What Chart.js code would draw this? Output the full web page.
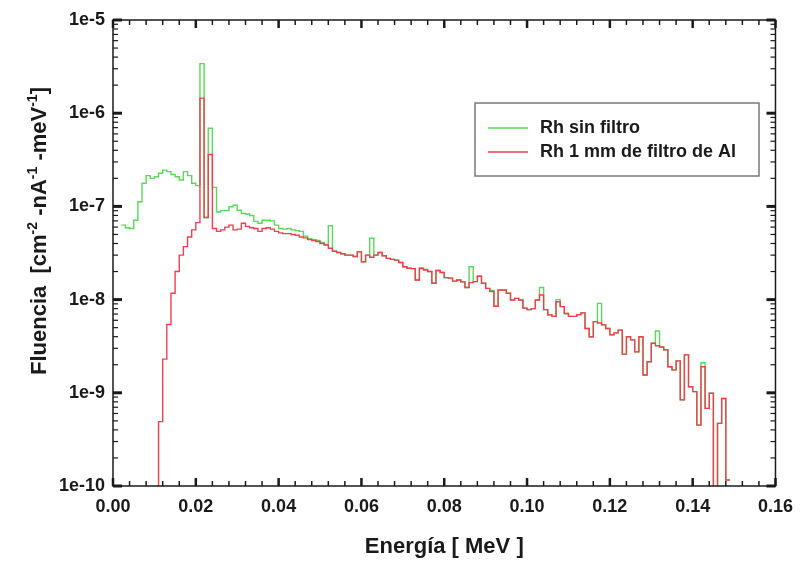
<!DOCTYPE html>
<html>
<head>
<meta charset="utf-8">
<script src="https://cdn.jsdelivr.net/npm/chart.js@4/dist/chart.umd.min.js"></script>
<style>
html,body{margin:0;padding:0;background:#ffffff;}
#wrap{width:803px;height:563px;}
</style>
</head>
<body>
<div id="wrap"><canvas id="c" width="803" height="563"></canvas></div>
<script>
// ---- data (bin lower edges in keV, 1 keV wide bins) ----
const energyKeV = [
  2,3,4,5,6,7,8,9,10,11,
  12,13,14,15,16,17,18,19,20,21,
  22,23,24,25,26,27,28,29,30,31,
  32,33,34,35,36,37,38,39,40,41,
  42,43,44,45,46,47,48,49,50,51,
  52,53,54,55,56,57,58,59,60,61,
  62,63,64,65,66,67,68,69,70,71,
  72,73,74,75,76,77,78,79,80,81,
  82,83,84,85,86,87,88,89,90,91,
  92,93,94,95,96,97,98,99,100,101,
  102,103,104,105,106,107,108,109,110,111,
  112,113,114,115,116,117,118,119,120,121,
  122,123,124,125,126,127,128,129,130,131,
  132,133,134,135,136,137,138,139,140,141,
  142,143,144,145,146,147,148
];

// Rh sin filtro
const fluenceSinFiltro = [
  6.3e-8,5.9e-8,5.8e-8,7.1e-8,1.12e-7,1.77e-7,2.14e-7,2.0e-7,2.08e-7,2.27e-7,
  2.45e-7,2.36e-7,2.2e-7,2.08e-7,1.92e-7,2.36e-7,2.14e-7,1.77e-7,1.67e-7,3.4e-6,
  7.6e-8,6.9e-7,1.6e-7,8.7e-8,9.0e-8,9.0e-8,9.9e-8,1.03e-7,9.1e-8,8.4e-8,
  8.3e-8,8.0e-8,6.9e-8,6.6e-8,7.1e-8,7.1e-8,7.0e-8,6.3e-8,5.8e-8,5.7e-8,
  5.8e-8,5.6e-8,5.5e-8,5.4e-8,4.8e-8,4.5e-8,4.4e-8,4.3e-8,4.1e-8,3.9e-8,
  6.2e-8,3.3e-8,3.2e-8,3.1e-8,3.0e-8,3.0e-8,2.9e-8,3.25e-8,2.55e-8,3.0e-8,
  4.55e-8,3.0e-8,3.2e-8,2.95e-8,2.77e-8,2.7e-8,2.65e-8,2.5e-8,2.25e-8,2.17e-8,
  2.15e-8,1.62e-8,2.2e-8,2.1e-8,2.0e-8,1.5e-8,2.05e-8,1.95e-8,1.72e-8,1.7e-8,
  1.58e-8,1.62e-8,1.55e-8,1.35e-8,2.25e-8,1.56e-8,1.78e-8,1.5e-8,1.32e-8,1.25e-8,
  8.5e-9,1.27e-8,1.27e-8,1.17e-8,9.9e-9,1.03e-8,9.9e-9,8.1e-9,7.8e-9,8.0e-9,
  9.9e-9,1.35e-8,7.8e-9,6.85e-9,6.6e-9,1.0e-8,8.4e-9,7.1e-9,6.6e-9,6.6e-9,
  6.9e-9,7.2e-9,4.9e-9,4.0e-9,5.8e-9,9.1e-9,5.35e-9,4.9e-9,4.2e-9,4.4e-9,
  4.7e-9,2.6e-9,4.0e-9,3.7e-9,2.75e-9,4.0e-9,1.55e-9,2.15e-9,3.4e-9,4.6e-9,
  3.1e-9,2.9e-9,1.9e-9,1.76e-9,2.2e-9,8.4e-10,2.55e-9,1.16e-9,1.03e-9,4.5e-10,
  2.1e-9,6.8e-10,9.9e-10,0,4.7e-10,8.7e-10,1.16e-10
];

// Rh 1 mm de filtro de Al (0 = below scale)
const fluenceFiltroAl = [
  0,0,0,0,0,0,0,0,0,4.9e-10,
  2.3e-9,5.4e-9,1.17e-8,2.0e-8,3.0e-8,3.7e-8,4.7e-8,5.6e-8,6.7e-8,1.45e-6,
  7.6e-8,3.6e-7,5.8e-8,5.4e-8,5.6e-8,6.0e-8,6.3e-8,5.6e-8,5.7e-8,6.6e-8,
  6.1e-8,5.9e-8,5.8e-8,5.4e-8,5.8e-8,5.9e-8,5.7e-8,5.4e-8,5.2e-8,5.1e-8,
  5.1e-8,5.0e-8,4.9e-8,4.7e-8,4.6e-8,4.4e-8,4.3e-8,4.2e-8,4.0e-8,3.85e-8,
  3.55e-8,3.3e-8,3.2e-8,3.1e-8,3.0e-8,3.0e-8,2.9e-8,3.25e-8,2.55e-8,3.0e-8,
  2.85e-8,3.0e-8,3.2e-8,2.95e-8,2.77e-8,2.7e-8,2.65e-8,2.5e-8,2.25e-8,2.17e-8,
  2.15e-8,1.62e-8,2.15e-8,2.08e-8,2.0e-8,1.5e-8,2.05e-8,1.95e-8,1.72e-8,1.7e-8,
  1.58e-8,1.62e-8,1.55e-8,1.35e-8,1.52e-8,1.56e-8,1.78e-8,1.5e-8,1.32e-8,1.22e-8,
  8.5e-9,1.27e-8,1.27e-8,1.17e-8,9.9e-9,1.03e-8,9.9e-9,8.1e-9,7.8e-9,8.0e-9,
  9.9e-9,1.12e-8,7.8e-9,6.85e-9,6.6e-9,9.5e-9,8.4e-9,7.1e-9,6.6e-9,6.6e-9,
  6.9e-9,7.2e-9,4.9e-9,4.0e-9,5.8e-9,5.6e-9,5.35e-9,4.9e-9,4.2e-9,4.4e-9,
  4.7e-9,2.6e-9,4.0e-9,3.7e-9,2.75e-9,4.0e-9,1.55e-9,2.15e-9,3.4e-9,3.2e-9,
  3.1e-9,2.9e-9,1.9e-9,1.76e-9,2.2e-9,8.4e-10,2.55e-9,1.16e-9,1.03e-9,4.5e-10,
  1.9e-9,6.8e-10,9.9e-10,0,4.7e-10,8.7e-10,1.16e-10
];

const seriesLabels = ['Rh sin filtro', 'Rh 1 mm de filtro de Al'];
const xTickValues = [0, 0.02, 0.04, 0.06, 0.08, 0.10, 0.12, 0.14, 0.16];
const xTickLabels = ['0.00','0.02','0.04','0.06','0.08','0.10','0.12','0.14','0.16'];
const yTickValues = [1e-10, 1e-9, 1e-8, 1e-7, 1e-6, 1e-5];
const yTickLabels = ['1e-10','1e-9','1e-8','1e-7','1e-6','1e-5'];
const xTitle = 'Energía [ MeV ]';
// y title with superscripts: text pieces and whether each is a superscript
const yTitleParts = ['Fluencia  [cm', '-2', ' -nA', '-1', ' -meV', '-1', ']'];
const yTitleSuper = [false, true, false, true, false, true, false];

// ---- build step-histogram points (value applies to [edge, next edge]) ----
const BELOW_SCALE = 1e-12;
function histPoints(vals) {
  const pts = energyKeV.map((e, i) => ({ x: e / 1000, y: vals[i] > 0 ? vals[i] : BELOW_SCALE }));
  const n = energyKeV.length - 1;
  const w = energyKeV[n] - energyKeV[n - 1];
  pts.push({ x: (energyKeV[n] + w) / 1000, y: pts[n].y });
  return pts;
}

const FONT = '"Liberation Sans", Arial, Helvetica, sans-serif';
const GREEN = 'rgb(92,214,92)';
const RED = 'rgb(238,64,80)';

const frameTicks = {
  id: 'frameTicks',
  afterDatasetsDraw(chart) {
    const { ctx, chartArea: a, scales: { x, y } } = chart;
    ctx.save();
    ctx.strokeStyle = '#1a1a1a';
    function seg(x1, y1, x2, y2, w) {
      ctx.lineWidth = w; ctx.beginPath(); ctx.moveTo(x1, y1); ctx.lineTo(x2, y2); ctx.stroke();
    }
    for (let i = 0; i < xTickValues.length; i++) {
      const px = x.getPixelForValue(xTickValues[i]);
      seg(px, a.bottom, px, a.bottom - 8, 2.5);
      seg(px, a.top, px, a.top + 8, 2.5);
      if (i < xTickValues.length - 1) {
        for (let k = 1; k < 5; k++) {
          const v = xTickValues[i] + (xTickValues[i + 1] - xTickValues[i]) * k / 5;
          const p = x.getPixelForValue(v);
          seg(p, a.bottom, p, a.bottom - 5, 1.5);
          seg(p, a.top, p, a.top + 5, 1.5);
        }
      }
    }
    for (let i = 0; i < yTickValues.length; i++) {
      const py = y.getPixelForValue(yTickValues[i]);
      seg(a.left, py, a.left + 9, py, 3);
      seg(a.right, py, a.right - 9, py, 3);
      if (i < yTickValues.length - 1) {
        for (let m = 2; m < 10; m++) {
          const p = y.getPixelForValue(yTickValues[i] * m);
          seg(a.left, p, a.left + 5, p, 1.2);
          seg(a.right, p, a.right - 5, p, 1.2);
        }
      }
    }
    ctx.lineWidth = 1.5;
    ctx.strokeRect(a.left, a.top, a.right - a.left, a.bottom - a.top);
    ctx.restore();
  }
};

const yAxisTitle = {
  id: 'yAxisTitle',
  afterDraw(chart) {
    const { ctx, chartArea: a } = chart;
    const mainFont = 'bold 22px ' + FONT;
    const supFont = 'bold 14px ' + FONT;
    ctx.save();
    ctx.fillStyle = '#1a1a1a';
    ctx.textBaseline = 'alphabetic';
    ctx.textAlign = 'left';
    let total = 0;
    const widths = yTitleParts.map((t, i) => {
      ctx.font = yTitleSuper[i] ? supFont : mainFont;
      const w = ctx.measureText(t).width;
      total += w;
      return w;
    });
    const cy = (a.top + a.bottom) / 2 - 22;
    ctx.translate(38, cy);
    ctx.rotate(-Math.PI / 2);
    let cx = -total / 2;
    yTitleParts.forEach((t, i) => {
      ctx.font = yTitleSuper[i] ? supFont : mainFont;
      ctx.fillText(t, cx, yTitleSuper[i] ? -1 : 8);
      cx += widths[i];
    });
    ctx.restore();
  }
};

const boxLegend = {
  id: 'boxLegend',
  afterDraw(chart) {
    const { ctx, chartArea: a } = chart;
    const bx = a.left + 362, by = a.top + 83, bw = 284, bh = 73;
    ctx.save();
    ctx.fillStyle = '#ffffff';
    ctx.fillRect(bx, by, bw, bh);
    ctx.strokeStyle = '#7a7a7a';
    ctx.lineWidth = 1.5;
    ctx.strokeRect(bx, by, bw, bh);
    chart.data.datasets.forEach((ds, i) => {
      const ly = by + 25 + i * 24;
      ctx.strokeStyle = ds.borderColor;
      ctx.lineWidth = 1.5;
      ctx.beginPath(); ctx.moveTo(bx + 13, ly); ctx.lineTo(bx + 53, ly); ctx.stroke();
      ctx.fillStyle = '#1a1a1a';
      ctx.font = 'bold 18px ' + FONT;
      ctx.textBaseline = 'middle';
      ctx.textAlign = 'left';
      ctx.fillText(ds.label, bx + 65, ly);
    });
    ctx.restore();
  }
};

new Chart(document.getElementById('c'), {
  type: 'line',
  data: {
    datasets: [
      { label: seriesLabels[0], data: histPoints(fluenceSinFiltro), borderColor: GREEN, backgroundColor: GREEN,
        borderWidth: 1.4, stepped: 'before', pointRadius: 0, fill: false, order: 2 },
      { label: seriesLabels[1], data: histPoints(fluenceFiltroAl), borderColor: RED, backgroundColor: RED,
        borderWidth: 1.4, stepped: 'before', pointRadius: 0, fill: false, order: 1 }
    ]
  },
  options: {
    responsive: false,
    animation: false,
    devicePixelRatio: 1,
    parsing: false,
    normalized: true,
    layout: { padding: { left: 0, top: 20, right: 22, bottom: 0 } },
    plugins: { legend: { display: false }, tooltip: { enabled: false } },
    scales: {
      x: {
        type: 'linear', min: 0, max: 0.16,
        afterBuildTicks: s => { s.ticks = xTickValues.map(v => ({ value: v })); },
        afterFit: s => { s.height = 77; },
        ticks: { callback: (v, i) => xTickLabels[i], autoSkip: false, maxRotation: 0, padding: 10,
                 color: '#1a1a1a', font: { family: FONT, size: 18, weight: 'bold' } },
        grid: { display: false, drawTicks: false },
        border: { display: false },
        title: { display: true, text: xTitle, color: '#1a1a1a', padding: { top: 0, bottom: 3 },
                 font: { family: FONT, size: 22, weight: 'bold' } }
      },
      y: {
        type: 'logarithmic', min: 1e-10, max: 1e-5,
        afterBuildTicks: s => { s.ticks = yTickValues.map(v => ({ value: v, major: true })); },
        afterFit: s => { s.width = 113; },
        ticks: { callback: (v, i) => yTickLabels[i], autoSkip: false, padding: 8,
                 color: '#1a1a1a', font: { family: FONT, size: 18, weight: 'bold' } },
        grid: { display: false, drawTicks: false },
        border: { display: false },
        title: { display: false, text: yTitleParts.join('') }
      }
    }
  },
  plugins: [frameTicks, yAxisTitle, boxLegend]
});
</script>
</body>
</html>
